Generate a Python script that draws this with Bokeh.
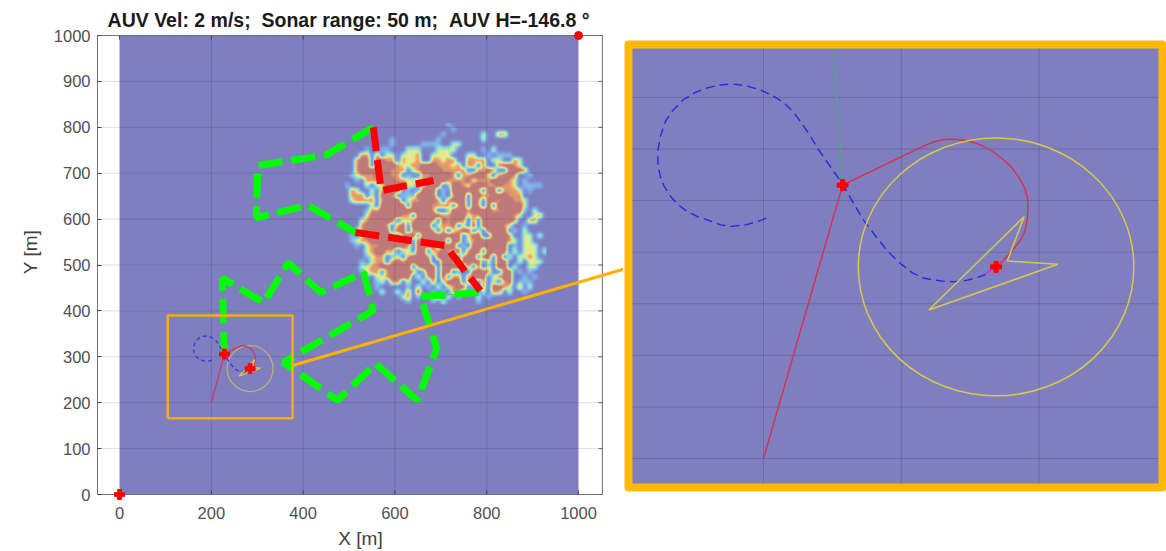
from bokeh.plotting import figure
from bokeh.layouts import row
from bokeh.embed import file_html
from bokeh.resources import INLINE
from bokeh.models import Range1d, FixedTicker, LinearColorMapper
from bokeh.core.properties import value
import numpy as np

TITLE = "AUV Vel: 2 m/s;\u00a0\u00a0Sonar range: 50 m;\u00a0\u00a0AUV H=-146.8 \u00b0"
FONT = "Liberation Sans"

# ---- values (metres) ----
x_ticks = [0, 200, 400, 600, 800, 1000]
y_ticks = [0, 100, 200, 300, 400, 500, 600, 700, 800, 900, 1000]
x_min, x_max = -48, 1052
y_min, y_max = 0, 1000
green_x = [553, 449, 301, 298, 410, 514]
green_y = [800, 739, 717, 603, 630, 571]
green2_x = [782, 656, 691, 649, 558, 475, 357, 553, 532, 438, 368, 314, 224, 228]
green2_y = [440, 431, 318, 205, 285, 205, 288, 401, 484, 440, 505, 418, 471, 306]
red_a_x = [553, 570, 684]
red_a_y = [800, 662, 684]
red_b_x = [514, 710, 786]
red_b_y = [571, 542, 444]
box_x = [105, 377, 377, 105, 105]
box_y = [166, 166, 390, 390, 166]
link_x = [377, 1102]
link_y = [281, 492]
way_x, way_y = 228.7, 306.0
auv_x, auv_y = 284.4, 274.3
sonar_range = 50

inset_x_ticks = [200, 250, 300]
inset_y_ticks = [200, 220, 240, 260, 280, 300, 320, 340]
inset_left, inset_right = 151, 344.8
inset_bottom, inset_top = 188.8, 360.5
inset_green_x = [225.4, 228.7]
inset_green_y = [360.5, 306]

blue_x = [201, 197.5, 193.5, 188.5, 184.5, 181, 176, 172, 168.8, 166.3, 164, 162.5, 161.7, 161.6, 162.6, 164.4,
          167.3, 170.8, 175, 179.6, 184, 188.5, 193.7, 198.6, 203.2, 207.5, 210.9, 213.9, 217, 220, 224.5, 229,
          232.6, 236.6, 241, 245.4, 249.8, 254.3, 258, 261.9, 265.7, 269.5, 273.3, 277, 279.7, 282]
blue_y = [293.2, 291.8, 290.6, 290, 290.6, 292, 293.8, 296, 298.6, 301.6, 305.4, 309.4, 314, 319, 325, 330.7,
          335.2, 339, 341.8, 343.7, 344.8, 345.2, 344.5, 343, 340.7, 337.9, 334.2, 330, 325, 319.7, 312.8, 306,
          299, 292, 285.8, 280, 275.5, 271.8, 270, 269.2, 268.7, 268.6, 269, 270, 271, 272]
track_x = [200, 228.7, 259, 262, 265, 268.2, 271.4, 274.6, 278.5, 282.2, 286, 289.7, 292.5, 294.8, 295.8, 296,
           295.7, 294.8, 293.2, 291, 288.8, 286.6, 284.4]
track_y = [200, 306, 321.6, 322.8, 323.6, 323.8, 323.6, 323, 321.7, 319.8, 316.8, 313.3, 309.3, 304.9, 301, 297,
           292.5, 288, 284.6, 281.6, 278.8, 276.4, 274.3]
mag_x = [284.4, 280.3]
mag_y = [274.3, 271.5]
arrow_x = [294.6, 288.5, 306.8, 260, 294.6]
arrow_y = [293.8, 276.6, 275.3, 257.6, 293.8]

# sonar map read cell by cell: 0 background ... 4 strongest
blob_x0, blob_ytop, blob_cell = 490, 810, 11
blob_rows = [
    "....................1...................",
    ".....................1..................",
    "...................1.......2..33........",
    ".........1........1........2............",
    ".........1.....1111..22.................",
    "....1..11...222...2222.....1.2..........",
    "...33.3.22.2223..2222...22..1.111.......",
    "..344.4433.3223..33233..3333.22..32.....",
    "..344.44443223344433323.33.3..34432.....",
    "..3444444333.23444433333..3343..4443....",
    ".1233344433.1..3344443.334442.3443..1...",
    "..1.333444332233444433334233344432.1....",
    "1...2.22444422.2444.14432444334332.1111.",
    ".32..2.3444.1.1444.1.444443.44.3332.1...",
    ".333.2.444.1114444.1.344.4433444333.....",
    ".23333.3444.2334443.3444.43.44344332....",
    ".....2.44444.44443333.34.43.4.444442....",
    "....13344444444443..1444344443344441.2..",
    "....244444433.444443344423344444432..23.",
    "...2344444.2234443.43443.3.4444443..33..",
    "...344443.34.4444.2334.2.4.444432..1....",
    "..2344444.44.34443.3.2344.2.4444.1.2....",
    ".1.2444444.344.44444444.244..4443..22.2.",
    ".123344444444.444444.44.2344444432.22...",
    "..1.233444443.4444.344.1.4444444.1.222..",
    "....234433.22.44.334334.344.4444.2.222.2",
    "....1233.12.34443.4443.344.44.4.2.2232..",
    "...1.233.34344444..443.4444.2.44..2.222.",
    "...2233444444.3444.4444.3.3.2.44.2..22..",
    "...1233.344443.144.44.1..4443..44.1.1...",
    "....1.2234444.2.34.4.33.3444.2344..1.1..",
    "......12.33.2..2.3.2444.33.3.2.34.111...",
    "......1.....1.2.1.2.2344.1.3.4432.3.2...",
    ".......2..2.3.4..1.1.33.1..2.33.2..1....",
    "...........23.1..23.2.1...2.1...........",
    "............1....1.2......1.............",
]

PURPLE = "#7f7fbf"
ORANGE = "#ffb900"
stops = [(127, 127, 191), (125, 170, 235), (135, 220, 215), (232, 238, 135), (238, 165, 110), (190, 122, 122)]

cells = np.array([[0 if ch == "." else int(ch) for ch in r.ljust(40, ".")] for r in blob_rows], dtype=float)[::-1]
n_rows, n_cols = cells.shape

# display shading of the read cells (the map is drawn with interpolated shading)
scale = 5
fine = np.kron(cells, np.ones((scale, scale)))
kernel = np.array([1, 2, 3, 3, 3, 2, 1], dtype=float)
kernel /= kernel.sum()
fine = np.apply_along_axis(lambda v: np.convolve(v, kernel, mode="same"), 0, fine)
fine = np.apply_along_axis(lambda v: np.convolve(v, kernel, mode="same"), 1, fine)

t = np.linspace(0, len(stops) - 1, 64)
stop_arr = np.array(stops, dtype=float)
pal_rgb = np.stack([np.interp(t, np.arange(len(stops)), stop_arr[:, i]) for i in range(3)], axis=1).astype(int)
palette = ["#%02x%02x%02x" % tuple(c) for c in pal_rgb]

# the frame is larger than the axes box so that the link line, the corner markers
# and the heading above the box can all be drawn through its scales
px_per_m = 0.459
p = figure(width=623, height=549, frame_width=526, frame_height=503,
           output_backend="svg", toolbar_location=None,
           x_range=Range1d(x_min, x_min + 526 / px_per_m),
           y_range=Range1d(y_min - 9 / px_per_m, y_max + 35 / px_per_m),
           min_border_left=97, min_border_right=0, min_border_top=0, min_border_bottom=46,
           x_axis_label="X [m]", y_axis_label="Y [m]")
p.outline_line_color = None
p.background_fill_color = "white"
p.xgrid.visible = False
p.ygrid.visible = False

p.xaxis.ticker = FixedTicker(ticks=x_ticks)
p.yaxis.ticker = FixedTicker(ticks=y_ticks)
p.xaxis.bounds = (x_min, x_max)
p.yaxis.bounds = (y_min, y_max)
for ax in (p.xaxis[0], p.yaxis[0]):
    ax.axis_line_color = "#707070"
    ax.major_tick_line_color = "#404060"
    ax.major_tick_in = 4
    ax.major_tick_out = 0
    ax.minor_tick_line_color = None
    ax.major_label_text_font = FONT
    ax.major_label_text_font_size = "16.5px"
    ax.major_label_text_color = "#505050"
    ax.axis_label_text_font = FONT
    ax.axis_label_text_font_style = "normal"
    ax.axis_label_text_font_size = "19px"
    ax.axis_label_text_color = "#404040"
p.xaxis.axis_line_color = None
p.xaxis.major_tick_line_color = None
p.xaxis.major_tick_in = 0
p.xaxis.major_label_standoff = 3
p.xaxis.axis_label_standoff = 6
p.yaxis.major_label_standoff = 7
p.yaxis.axis_label_standoff = 10

p.text(x=[-26], y=[1033], text=[TITLE], text_font=value(FONT), text_font_style="bold",
       text_font_size="19.5px", text_color="#1a1a1a", text_baseline="middle", text_align="left")

p.quad(left=[0], right=[1000], bottom=[0], top=[1000], fill_color=PURPLE, line_color=None)
p.image(image=[fine], x=blob_x0, y=blob_ytop - n_rows * blob_cell,
        dw=n_cols * blob_cell, dh=n_rows * blob_cell,
        color_mapper=LinearColorMapper(palette=palette, low=0, high=3.5))

# grid lines of the axes box
grid_x = x_ticks[1:-1]
grid_y = y_ticks[1:-1]
p.segment(x0=grid_x, x1=grid_x, y0=[y_min] * len(grid_x), y1=[y_max] * len(grid_x),
          line_color="#000040", line_alpha=0.13, line_width=1)
p.segment(x0=[x_min] * len(grid_y), x1=[x_max] * len(grid_y), y0=grid_y, y1=grid_y,
          line_color="#000040", line_alpha=0.13, line_width=1)
# box on all sides, with its inward ticks
p.line([x_min, x_max, x_max, x_min], [y_min, y_min, y_max, y_max], line_color="#707070", line_width=1)
tick_len = 4 / px_per_m
p.segment(x0=x_ticks, x1=x_ticks, y0=[y_max] * len(x_ticks), y1=[y_max - tick_len] * len(x_ticks),
          line_color="#404060", line_width=1)
p.segment(x0=x_ticks, x1=x_ticks, y0=[y_min] * len(x_ticks), y1=[y_min + tick_len] * len(x_ticks),
          line_color="#404060", line_width=1)
p.segment(x0=[x_max] * len(y_ticks), x1=[x_max - tick_len] * len(y_ticks), y0=y_ticks, y1=y_ticks,
          line_color="#606060", line_width=1)

for xs, ys in ((green_x, green_y), (green2_x, green2_y)):
    p.line(xs, ys, line_color="#00e020", line_width=1, line_alpha=0.6)
    p.line(xs, ys, line_color="#00ff00", line_width=7, line_dash="24 9")
for xs, ys in ((red_a_x, red_a_y), (red_b_x, red_b_y)):
    p.line(xs, ys, line_color="#ff0000", line_width=7, line_dash="24 9")

p.line(box_x, box_y, line_color="#f2ac1c", line_width=2.5)
p.ellipse(x=[auv_x], y=[auv_y], width=2 * sonar_range, height=2 * sonar_range,
          fill_color=None, line_color="#c0ae76", line_width=1.3)
p.line(blue_x, blue_y, line_color="#3838e0", line_width=1.3, line_dash="4 3")
p.line(track_x, track_y, line_color="#cc3a5a", line_width=1.3)
p.line(arrow_x, arrow_y, line_color="#e0c840", line_width=1.2)
p.line(link_x, link_y, line_color="#ffb000", line_width=3)
p.scatter([way_x, auv_x], [way_y, auv_y], marker="plus", size=10, fill_color="#ff0000", line_color="#ff0000")
p.scatter([0], [0], marker="plus", size=10, fill_color="#ff0000", line_color="#ff0000")
p.scatter([1000], [1000], marker="circle", size=8, fill_color="#ff0000", line_color="#ff0000")

# ---- zoomed panel: a row lines its frames up, so it shares the main frame's top and bottom ----
sx, sy = 2.755, 2.58
q = figure(width=543, height=549, frame_width=543, frame_height=503,
           output_backend="svg", toolbar_location=None,
           x_range=Range1d(inset_left - 5 / sx, inset_right + 4 / sx),
           y_range=Range1d(inset_bottom - 16 / sy, inset_top + 44 / sy),
           x_axis_type=None, y_axis_type=None,
           min_border_left=0, min_border_right=0, min_border_top=0, min_border_bottom=46)
q.outline_line_color = None
q.quad(left=[inset_left], right=[inset_right], bottom=[inset_bottom], top=[inset_top],
       fill_color=PURPLE, line_color=None)
q.segment(x0=inset_x_ticks, x1=inset_x_ticks, y0=[inset_bottom] * len(inset_x_ticks), y1=[inset_top] * len(inset_x_ticks),
          line_color="#000040", line_alpha=0.16, line_width=1)
q.segment(x0=[inset_left] * len(inset_y_ticks), x1=[inset_right] * len(inset_y_ticks), y0=inset_y_ticks, y1=inset_y_ticks,
          line_color="#000040", line_alpha=0.16, line_width=1)

q.line(inset_green_x, inset_green_y, line_color="#30c060", line_width=1.3, line_dash="6 4")
q.line(blue_x, blue_y, line_color="#2828e8", line_width=1.4, line_dash="9 5")
q.line(track_x, track_y, line_color="#d8304e", line_width=1.4)
q.line(mag_x, mag_y, line_color="#d030d0", line_width=1.3)
q.line(arrow_x, arrow_y, line_color="#d8c84a", line_width=1.5)
q.ellipse(x=[auv_x], y=[auv_y], width=2 * sonar_range, height=2 * sonar_range,
          fill_color=None, line_color="#d8c84a", line_width=1.5)
q.scatter([way_x, auv_x], [way_y, auv_y], marker="plus", size=11, fill_color="#ff0000", line_color="#ff0000")
q.quad(left=[inset_left], right=[inset_right], bottom=[inset_bottom], top=[inset_top],
       fill_color=None, line_color=ORANGE, line_width=8, line_join="round")

layout = row(p, q, spacing=0)
open("out.html", "w").write(file_html(layout, INLINE))
